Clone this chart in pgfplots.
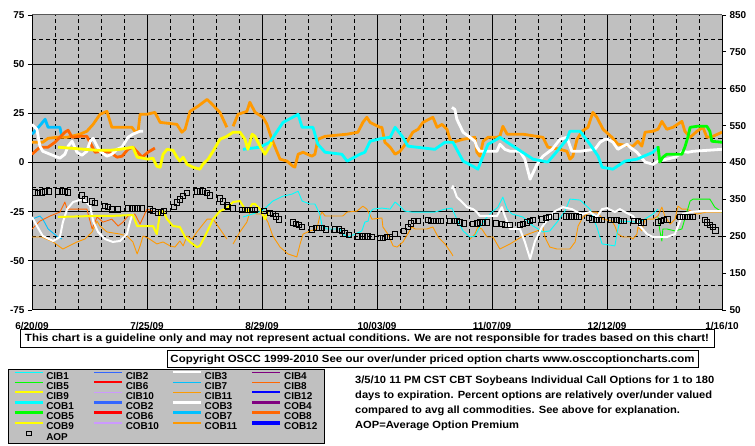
\documentclass[border=0pt]{standalone}
\usepackage{fontspec}
\setmainfont{Liberation Sans}
\usepackage{pgfplots}
\pgfplotsset{compat=1.18}

\definecolor{bg}{HTML}{C0C0C0}
\definecolor{cyn}{HTML}{00FFFF}
\definecolor{skyb}{HTML}{00C0FF}
\definecolor{royal}{HTML}{3366FF}
\definecolor{purp}{HTML}{800080}
\definecolor{redd}{HTML}{FF0000}
\definecolor{lav}{HTML}{CC99FF}
\definecolor{orred}{HTML}{FF6600}
\definecolor{orng}{HTML}{FF9900}
\definecolor{yell}{HTML}{FFFF00}
\definecolor{grn}{HTML}{00FF00}
\definecolor{blu}{HTML}{0000FF}

\newcommand{\lblfont}{\bfseries\fontsize{10}{12}\selectfont}
\newcommand{\notefont}{\bfseries\fontsize{10.5}{12}\selectfont}

\begin{document}
\begin{tikzpicture}
\useasboundingbox (0bp,0bp) rectangle (755bp,446bp);
\fill[white] (0bp,0bp) rectangle (755bp,446bp);

\begin{axis}[
    at={(32bp,136bp)}, anchor=south west,
    scale only axis, width=690bp, height=295bp,
    xmin=0, xmax=210, ymin=-75, ymax=75,
    axis background/.style={fill=bg},
    axis x line*=bottom, axis y line*=left,
    axis line style={black, line width=1bp},
    xtick={35,70,105,140,175},
    xticklabels={7/25/09,8/29/09,10/03/09,11/07/09,12/12/09},
    extra x ticks={0,210}, extra x tick labels={6/20/09,1/16/10},
    extra x tick style={grid=none, xtick style={draw=none}},
    minor xtick={7,14,21,28,42,49,56,63,77,84,91,98,112,119,126,133,147,154,161,168,182,189,196,203},
    ytick={-50,-25,0,25,50},
    extra y ticks={-75,75}, extra y tick style={grid=none},
    minor ytick={-62.5,-37.5,-12.5,12.5,37.5,62.5},
    grid=both,
    major grid style={black, line width=0.8bp},
    minor grid style={black, line width=0.8bp, dash pattern=on 4bp off 3bp},
    tick align=outside, major tick length=4bp, minor tick length=0pt,
    xtick style={draw=none},
    ytick style={black, line width=0.8bp},
    tick label style={font=\lblfont},
    xticklabel style={yshift=-5bp},
    /pgf/number format/assume math mode=true,
    thin/.style={line width=0.9bp, line join=round},
    mid/.style={line width=2bp, line join=round},
    thick/.style={line width=2.8bp, line join=round},
    after end axis/.code={\draw[gray!70!black, line width=1bp] (rel axis cs:0,1) -- (rel axis cs:1,1);},
    legend image code/.code={\draw[mark repeat=2,mark phase=2,#1] plot coordinates {(0bp,3.5bp) (14bp,3.5bp) (28bp,3.5bp)};\path (0bp,0bp);},
    legend columns=4,
    legend cell align=left,
    legend style={at={(-0.0348,-0.2)}, anchor=north west, fill=bg, draw=black,
        line width=1bp, font=\lblfont, inner xsep=5bp, inner ysep=1.5bp,
        row sep=0bp,
        nodes={inner xsep=2bp, inner ysep=0.75bp, text height=7.5bp, text depth=1bp},
        /tikz/every even column/.append style={column sep=11bp, nodes={text width=33bp}}},
]

% ---------- CIB (thin) ----------
\addplot[forget plot, thin, skyb] coordinates {(0,-28.8) (2.4,-27.2) (3.3,-28.8) (4.9,-33.8) (7.9,-37.9) (9.1,-38.9)};
\addplot[forget plot, thin, orred] coordinates {(0,-33.8) (2.4,-29.8) (5.5,-27.2) (8.5,-25.2) (10,-20.1) (10.7,-23.7) (16.7,-23.7) (18.3,-33.8) (19.8,-27.7) (21.6,-30.3) (24.3,-28.8) (26.2,-32.3) (27.7,-30.3) (29.2,-27.2) (31.3,-26.2) (32.9,-31.3) (35,-23.7) (36.8,-24.7)};
\addplot[forget plot, thin, orng] coordinates {(0,-37.9) (3,-37.9) (6.4,-40.4) (9.4,-44.0) (13.7,-40.4) (16.1,-38.9) (18.3,-35.3) (19.8,-29.8) (20.7,-32.3) (22.8,-35.3) (26.8,-36.4) (28.9,-37.4) (30.7,-40.4) (32,-46.5) (32.9,-42.4) (33.8,-37.4) (35.3,-38.4) (38,-41.4) (39.9,-40.4) (42,-42.4) (43.5,-43.0) (45,-39.9) (46,-42.4) (47.2,-37.4) (48.7,-38.9) (50.2,-35.3) (53.3,-28.8) (55.1,-28.8) (57.2,-33.8) (59.3,-38.9)};
\addplot[forget plot, thin, orng] coordinates {(61.2,-41.4) (63.3,-35.3) (65.4,-30.3) (66.3,-25.2) (68.5,-26.2) (70.3,-26.2) (71.8,-30.3) (73.3,-37.4) (75.5,-43.0) (77.9,-46.5) (80.6,-48.0) (81.6,-41.4) (82.5,-36.4) (84.6,-34.8) (86.7,-33.8) (87.6,-27.2) (88.3,-25.2) (89.2,-27.2) (94.6,-27.2) (95.9,-25.2) (98.9,-24.7) (100.7,-22.2) (101.9,-23.7) (103.5,-28.8) (106.5,-28.2) (106.8,-32.8) (108.3,-36.4) (109.9,-42.4) (111.1,-43.0) (112.9,-40.4) (115.6,-32.8) (116.6,-33.8) (120.2,-33.8) (122,-32.8) (123.6,-37.9) (125.7,-41.4) (127.8,-46.5) (128.1,-47.5)};
\addplot[forget plot, thin, orng] coordinates {(133.3,-38.9) (134.8,-36.4) (135.7,-32.8) (136.9,-33.8) (138.5,-37.9) (140.3,-37.9) (142.4,-44.0) (145.5,-41.4) (149.4,-37.4) (153.7,-34.8) (155.5,-32.8) (156.1,-37.9) (157.6,-43.0) (159.8,-44.0) (163.7,-44.0) (165.3,-40.4) (166.2,-32.3) (167.7,-27.7) (169.8,-25.2) (171.9,-25.2) (173.8,-28.8) (176.5,-29.8) (177.4,-32.3) (178.3,-36.4) (179.9,-37.9) (182,-37.9) (182.9,-38.9) (184.1,-36.4) (184.4,-32.8) (185.6,-34.8) (186.6,-28.8) (189,-28.8) (190.5,-27.2) (191.7,-22.7) (192.6,-27.2) (194.2,-31.3) (195.7,-28.8) (196.6,-22.2) (197.8,-23.7) (199.3,-23.7) (202.4,-26.2) (205.4,-25.2) (210,-25.2)};
\addplot[forget plot, thin, cyn] coordinates {(64.2,-27.7) (70,-24.7) (73.3,-19.6) (76.4,-17.1) (79.1,-16.1) (81,-14.6) (82.2,-19.6) (84.6,-21.1) (86.1,-21.1) (87.6,-26.2) (88.3,-32.3) (89.8,-33.8) (93.7,-33.8) (94.6,-36.4) (96.2,-37.9) (98.3,-36.4) (100.4,-34.8) (101.3,-30.3) (102.3,-29.8) (102.9,-25.2) (103.8,-23.7) (106.5,-23.2) (109,-23.7) (110.5,-20.1) (112,-22.2) (113.5,-24.7) (115.6,-25.2) (122.6,-25.2) (125.7,-23.7) (127.8,-23.2) (129.3,-28.8) (131.2,-34.8) (133.3,-37.9) (134.8,-37.4) (136.3,-32.8) (137.9,-28.8) (140,-25.2) (141.8,-22.7) (143.3,-17.6) (144.6,-23.7) (146.1,-26.2) (149.4,-27.7) (152.5,-32.3) (155.5,-35.3) (157.6,-34.8) (159.8,-30.3) (162.2,-24.7) (163.7,-18.6) (166.8,-19.1) (169.8,-23.7) (171.9,-32.8) (173.5,-41.4) (177.4,-42.4) (178,-36.4) (178.9,-29.8) (185,-30.3) (189,-26.2) (190.5,-23.7)};
\addplot[forget plot, thin, grn] coordinates {(190.5,-27.7) (191.1,-34.8) (191.7,-39.9) (192,-33.8) (193.2,-33.8) (195.7,-34.8) (197.8,-33.8) (199.3,-25.2) (200.3,-19.6) (201.2,-18.6) (206.3,-18.6) (207.8,-22.7) (210,-25.2)};
\addplot[forget plot, mid, white] coordinates {(0,-27.7) (1.5,-32.3) (3.3,-37.4) (6.4,-39.9) (8.5,-37.9) (9.4,-30.3) (10.7,-23.7) (12.5,-20.1) (15.5,-18.6) (17.7,-22.2) (18.6,-29.8) (20.1,-35.3) (22.2,-38.9) (24.6,-40.4) (26.8,-39.9) (28.9,-36.4) (29.8,-30.3) (30.4,-27.2) (30.7,-26.2)};
\addplot[forget plot, mid, white] coordinates {(127.8,-13.5) (128.1,-12.0) (129.3,-17.6) (130.9,-20.1) (132.4,-22.7) (134.2,-23.7) (135.4,-25.2) (136.3,-27.2) (141.5,-27.2) (143,-22.7) (143.9,-27.2) (145.5,-33.8) (148.5,-33.8) (150,-40.4) (151.6,-49.0) (153.1,-39.9) (155.2,-32.8) (157,-28.8) (159.2,-24.7) (161.6,-22.7) (164.3,-23.7) (165.9,-25.2) (167.4,-26.2) (169.8,-25.2) (171.9,-27.7) (173.5,-23.7) (175,-23.2) (177.4,-25.2) (178.9,-23.7) (180.5,-25.2) (182.9,-27.2) (185,-32.3) (187.2,-36.4) (189,-37.9) (193.2,-37.9) (195.7,-36.4) (196.6,-32.3) (198.1,-26.2) (200.3,-25.2) (203.3,-24.7) (210,-24.7)};
\addplot[forget plot, mid, yell] coordinates {(7.9,-27.7) (18.6,-27.2) (23.7,-27.2) (30.7,-26.7) (32,-32.3) (36.8,-32.3) (38,-36.4) (39,-25.2) (39.9,-24.7) (41.1,-28.8) (42.9,-32.3) (45,-32.8) (46.6,-37.9) (48.1,-40.4) (50.2,-43.0) (51.1,-42.4) (53.3,-35.3) (55.1,-28.8) (57.2,-24.7) (59.3,-23.2) (61.2,-20.1) (63.3,-19.6) (64.8,-23.7) (65.7,-25.2) (67,-21.1) (67.9,-21.1) (69.4,-23.7) (70.9,-28.8) (71.8,-25.2)};

% ---------- COB (thick) ----------
\addplot[forget plot, thick, skyb] coordinates {(0,14.4) (2,18) (4,22) (4.9,17.9) (8.5,17.9) (9.1,12.8)};
\addplot[forget plot, thick, orng] coordinates {(0,10.3) (3.3,10.3) (4.9,12.3) (7.6,12.8) (10.7,12.8) (14.6,14.4) (16.7,15.9) (18.6,19.4) (20.7,24.5) (22.8,26.0) (24.3,17.9) (25.9,17.9) (30.4,17.9) (31.3,15.9) (32.3,15.9) (32.9,24.5) (35,24.5) (37.4,25.5) (39,20.4) (44.1,19.4) (45.6,15.4) (46.6,16.9) (48.1,26.0) (50.5,28.6) (53.3,32.1) (55.1,29.1) (57.2,25.5) (59.3,17.9)};
\addplot[forget plot, thick, orng] coordinates {(61.2,18.4) (62.7,24.5) (65.4,26.0) (66.3,30.6) (67.9,25.5) (70.3,23.0) (71.5,19.4) (73,11.8) (75.5,1.7) (77.6,0.7) (79.4,-1.9) (80,-2.4) (81,4.2) (82.5,5.2) (85.2,3.2) (86.1,4.2) (87,11.8) (89.2,13.3) (95.9,14.4) (99.2,15.4) (100.7,20.4) (101.9,23.0) (102.9,20.4) (105.9,17.9) (106.5,17.9) (107.4,10.3) (109,7.8) (110.5,4.2) (112,5.7) (114.1,10.3) (115.9,15.4) (117.5,16.9) (119,20.4) (122,23.0) (123.3,17.9) (124.8,19.4) (126.3,16.9) (127.2,11.8) (128.1,10.3) (131.2,11.8) (134.8,12.8) (135.4,5.2) (136.3,3.2) (137.3,10.8) (138.8,12.8) (141.5,12.8) (142.4,13.3) (143.3,18.4) (144.6,14.4) (149.4,14.4) (155.5,12.8) (157,7.8) (160.7,6.7) (162.8,5.7) (163.7,1.7) (164.6,3.2) (165.9,11.8) (167.4,15.9) (169.2,17.9) (170.7,25.5) (171.9,23.0) (173.8,16.9) (176.5,12.8) (178.3,9.3) (182.9,8.3) (184.4,10.8) (185.6,8.3) (186.6,15.4) (189,15.9) (190.5,16.9) (191.7,20.9) (193.2,16.9) (195.1,17.9) (197.8,20.9) (198.7,15.9) (200.3,12.8) (202.4,15.9) (204.2,17.9) (205.4,12.8) (207.2,13.3) (210,15.4)};
\addplot[forget plot, thick, orred] coordinates {(0,4.2) (2.4,7.8) (4.9,7.8) (7,10.3) (10,15.4) (11,16.4) (12.2,12.8) (14.6,13.3) (16.7,13.3) (19.2,5.2) (21.3,5.7) (23.7,5.2) (25.9,2.7) (27.4,3.2) (29.2,6.7) (30.7,7.8) (33.5,2.7) (35.3,5.2) (37.4,7.3)};
\addplot[forget plot, thick, white] coordinates {(0,19.4) (1.5,16.9) (2.4,8.3) (3.3,5.7) (5.5,4.2) (7,3.2) (8.5,2.2) (10,4.2) (11,8.3) (12.2,10.8) (13.7,5.2) (15.2,3.7) (16.7,5.7) (17.7,10.8) (18.6,12.3) (19.8,8.3) (20.7,5.7) (22.8,3.2) (24.3,4.2) (25.9,6.7) (27.4,7.8) (29.2,12.8) (30.7,14.4) (32.9,15.9) (33.8,15.9)};
\addplot[forget plot, thick, white] coordinates {(127.8,28.0) (128.7,27.0) (129.3,22.0) (131.2,15.4) (133.3,12.8) (134.8,10.8) (135.4,7.8) (136.3,5.7) (141.5,5.7) (142.4,9.3) (143.9,6.7) (145.5,5.7) (148.5,5.7) (150,1.7) (151.6,-8.5) (153.7,-0.9) (155.5,3.2) (158.3,6.7) (160.7,11.8) (162.8,12.8) (164.3,5.7) (166.8,5.7) (171.3,6.7) (172.9,10.3) (174.4,11.8) (175.3,11.8) (176.8,10.3) (178.3,6.7) (179.9,8.3) (181.1,9.3) (182,7.8) (184.1,5.2) (186.6,0.2) (189,-0.9) (190.5,0.7) (193.2,1.7) (195.7,2.7) (197.2,4.2) (198.1,5.7) (199.6,5.2) (201.2,5.7) (210,6.7)};
\addplot[forget plot, thick, cyn] coordinates {(64.2,6.7) (69.4,7.8) (72.4,10.3) (76.4,20.4) (81,24.5) (82.2,17.9) (85.5,17.9) (87,9.3) (89.2,5.2) (94.3,4.2) (95.9,0.7) (99.8,4.2) (101.3,5.2) (102.9,10.8) (106.5,12.3) (109,12.8) (110.5,17.9) (112.9,12.8) (114.4,8.3) (122.6,6.7) (125.7,10.3) (128.1,10.3) (131.2,0.7) (134.2,-1.9) (135.7,-3.4) (136.9,1.7) (138.8,9.3) (141.5,11.8) (142.4,12.8) (144.6,10.3) (152.5,1.7) (157,0.2) (159.8,5.7) (162.8,11.8) (163.7,15.9) (166.8,15.9) (169.8,9.3) (172.3,3.2) (173.5,-2.4) (176.8,-3.4) (180.5,0.7) (184.1,1.7) (189,5.2) (190.5,7.8)};
\addplot[forget plot, thick, yell] coordinates {(7.9,7.8) (19.8,6.2) (23.7,6.2) (26.8,6.7) (30.7,7.8) (32,2.7) (33.8,2.2) (35.3,1.7) (36.8,2.2) (38,-1.9) (39,-2.4) (39.9,4.2) (41.1,6.7) (42.9,6.2) (44.1,2.7) (45,0.7) (46,2.7) (47.2,-0.9) (49,-2.4) (51.1,-3.4) (52,-0.9) (53.6,1.7) (55.1,5.7) (57.2,11.8) (59.3,13.3) (61.2,15.4) (63.3,15.4) (64.8,11.8) (65.7,6.7) (67,14.4) (67.9,13.3) (69.4,8.3) (70.9,4.2) (72.4,8.3) (73,10.3)};
\addplot[forget plot, thick, grn] coordinates {(190.5,8.3) (191.1,0.2) (192,2.7) (193.2,4.2) (197.8,4.2) (198.7,7.8) (199.6,12.8) (200.3,17.9) (202.4,18.4) (205.4,18.4) (206.3,15.9) (206.9,10.8) (210,10.3)};

% ---------- legend ----------
\addlegendimage{cyn, line width=0.9bp}
\addlegendimage{royal, line width=0.9bp}
\addlegendimage{white, line width=2bp}
\addlegendimage{purp, line width=0.9bp}
\addlegendimage{grn, line width=0.9bp}
\addlegendimage{redd, line width=2bp}
\addlegendimage{skyb, line width=0.9bp}
\addlegendimage{orred, line width=0.9bp}
\addlegendimage{yell, line width=2bp}
\addlegendimage{lav, line width=0.9bp}
\addlegendimage{orng, line width=0.9bp}
\addlegendimage{blu, line width=2bp}
\addlegendimage{cyn, line width=2.8bp}
\addlegendimage{royal, line width=2.8bp}
\addlegendimage{white, line width=2.8bp}
\addlegendimage{purp, line width=2.8bp}
\addlegendimage{grn, line width=2.8bp}
\addlegendimage{redd, line width=3.5bp}
\addlegendimage{skyb, line width=2.8bp}
\addlegendimage{orred, line width=2.8bp}
\addlegendimage{yell, line width=2.8bp}
\addlegendimage{lav, line width=2.8bp}
\addlegendimage{orng, line width=2.8bp}
\addlegendimage{blu, line width=3.5bp}
\addlegendimage{only marks, mark=square, mark size=2.2bp, mark options={black, line width=0.9bp}}
\legend{CIB1,CIB2,CIB3,CIB4,CIB5,CIB6,CIB7,CIB8,CIB9,CIB10,CIB11,CIB12,COB1,COB2,COB3,COB4,COB5,COB6,COB7,COB8,COB9,COB10,COB11,COB12,AOP}
\end{axis}

% ---------- right axis: Average Option Premium ----------
\begin{axis}[
    at={(32bp,136bp)}, anchor=south west,
    scale only axis, width=690bp, height=295bp,
    xmin=0, xmax=210, ymin=50, ymax=850,
    axis x line=none, axis y line*=right,
    axis line style={black, line width=1bp},
    ytick={50,150,...,850},
    tick align=outside, major tick length=4bp,
    ytick style={black, line width=0.8bp},
    tick label style={font=\lblfont},
    /pgf/number format/assume math mode=true,
]
\addplot[only marks, mark=square, mark size=2.8bp, mark options={black, line width=1bp}] coordinates {
(0.9,369) (1.8,367) (3,369) (4,372) (5.2,372) (7.9,372) (9.1,372) (10,372) (11,369)
(15.2,361) (16.1,350) (18.3,345) (19.2,340) (22.2,332) (23.1,329) (24.3,323) (26.2,323)
(29.2,326) (30.4,326) (31.3,326) (32.3,326) (33.5,326) (35.9,323) (36.8,318) (38.3,315)
(39.3,315) (40.2,318) (43.2,329) (44.1,342) (45,350) (46,359) (47.2,367) (50.2,372)
(51.1,372) (52,372) (53.3,367) (54.2,361) (57.2,353) (58.1,345) (59.3,334) (59.6,329)
(61.2,326) (63.9,321) (64.8,321) (65.7,321) (67,321) (67.9,321) (70.6,318) (72.4,313)
(73.3,310) (74.3,304) (75.2,296) (79.4,288) (80.3,283) (81.3,280) (82.2,275) (85.2,269)
(86.5,272) (87.3,272) (88.3,272) (89.5,269) (92.2,269) (93.4,269) (94.3,264) (95.3,258)
(96.5,253) (99.2,250) (100.4,250) (101.3,250) (102.3,250) (103.5,248) (105.9,245)
(106.8,245) (108,248) (109,248) (110.5,256) (113.2,264) (114.4,275) (115.3,285)
(116.2,291) (117.5,291) (120.5,294) (121.4,291) (122.3,291) (123.6,291) (124.5,291)
(127.2,291) (128.4,291) (129.3,291) (130.2,288) (131.5,285) (134.2,283) (135.4,285)
(136.3,288) (137.3,288) (138.5,288) (141.2,285) (143,283) (143.9,280) (145.5,280)
(148.5,280) (149.4,283) (150.6,288) (151.6,291) (152.5,294) (155.2,296) (156.4,299)
(157.3,302) (159.5,304) (162.5,304) (163.4,304) (164.3,304) (165.6,304) (166.5,302)
(169.5,299) (170.4,296) (171.6,294) (172.6,294) (173.5,294) (176.2,294) (177.1,294)
(178,294) (179.3,291) (180.2,291) (183.2,291) (184.4,291) (185.3,288) (186.3,288)
(190.5,288) (191.4,291) (192.3,294) (193.5,296) (197.2,302) (198.1,302) (199.3,302)
(200.3,302) (201.2,302) (204.8,294) (205.4,288) (206.3,280) (207.2,275) (208.1,265)
};
\end{axis}

% ---------- notes ----------
\node[draw=black, line width=1bp, fill=white, minimum width=694bp, minimum height=18bp, inner sep=0pt,
      font=\notefont] at (367bp,107bp)
  {\resizebox{684bp}{\height}{This chart is a guideline only and may not represent actual conditions. We are not responsible for trades based on this chart!}};
\node[draw=black, line width=1bp, fill=white, minimum width=531bp, minimum height=17bp, inner sep=0pt,
      font=\notefont] at (432.5bp,86.5bp)
  {\resizebox{524bp}{\height}{Copyright OSCC 1999-2010 See our over/under priced option charts www.osccoptioncharts.com}};
\begin{scope}[every node/.style={anchor=west, inner sep=0pt, font=\notefont}]
\node at (355bp,65bp) {\scalebox{1.065}[1]{3/5/10 11 PM CST CBT Soybeans Individual Call Options for 1 to 180}};
\node at (355bp,50bp) {\scalebox{1.065}[1]{days to expiration. Percent options are relatively over/under valued}};
\node at (355bp,35bp) {\scalebox{1.065}[1]{compared to avg all commodities. See above for explanation.}};
\node at (355bp,20bp) {\scalebox{1.065}[1]{AOP=Average Option Premium}};
\end{scope}
\end{tikzpicture}
\end{document}
